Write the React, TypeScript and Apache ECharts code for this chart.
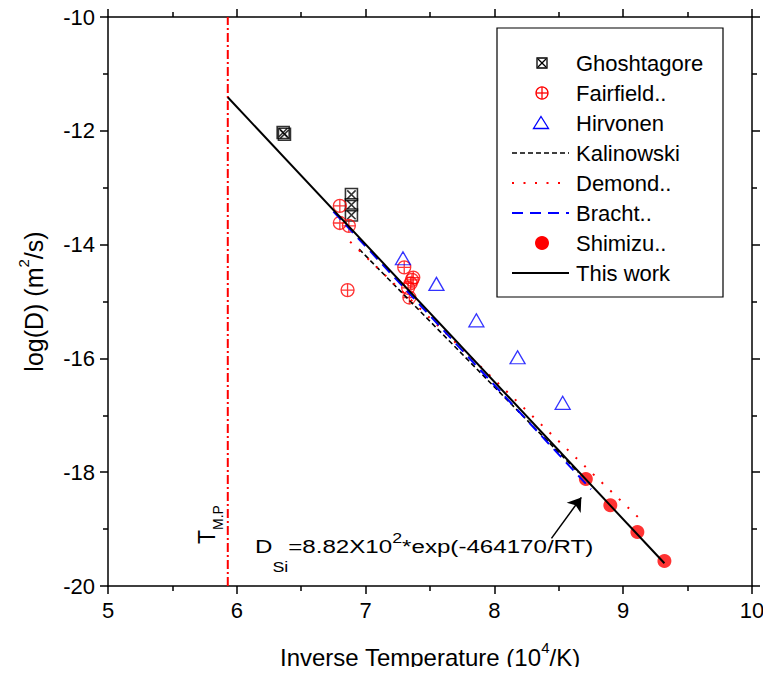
import React, { useEffect, useRef } from 'react';
import * as echarts from 'echarts';

// ---- data ----
const ghoshtagore: number[][] = [[6.36, -12.03], [6.37, -12.06], [6.89, -13.12], [6.89, -13.30], [6.89, -13.48]];
const fairfield: number[][] = [
  [6.80, -13.32], [6.80, -13.62], [6.87, -13.67], [6.86, -14.80], [7.30, -14.40],
  [7.37, -14.58], [7.36, -14.62], [7.35, -14.68], [7.33, -14.76], [7.34, -14.93],
];
const hirvonen: number[][] = [[7.29, -14.24], [7.55, -14.69], [7.86, -15.33], [8.18, -15.98], [8.53, -16.78]];
const shimizu: number[][] = [[8.71, -18.12], [8.90, -18.58], [9.11, -19.05], [9.32, -19.56]];
const kalinowski: number[][] = [[6.95, -14.08], [8.65, -18.0]];
const demond: number[][] = [[6.88, -13.95], [9.12, -18.8]];
const bracht: number[][] = [[6.75, -13.42], [8.75, -18.3]];
const thisWork: number[][] = [[5.93, -11.41], [9.32, -19.6]];
const meltingPoint: number[][] = [[5.93, -20], [5.93, -10]];
const arrowFrom: number[] = [8.443, -19.162];
const arrowTo: number[] = [8.675, -18.443];

const xMin = 5, xMax = 10, xStep = 1;
const yMin = -20, yMax = -10, yStep = 2;

const legendNames = ['Ghoshtagore', 'Fairfield..', 'Hirvonen', 'Kalinowski', 'Demond..', 'Bracht..', 'Shimizu..', 'This work'];

const FONT = '"Liberation Sans", Arial, Helvetica, sans-serif';

export default function App() {
  const ref = useRef<HTMLDivElement>(null);

  useEffect(() => {
    if (!ref.current) return;
    const chart = echarts.init(ref.current, undefined, { renderer: 'svg' });

    const axisLineStyle = { color: '#000', width: 1.5 };
    const baseAxis = {
      type: 'value' as const,
      axisLine: { show: true, onZero: false, lineStyle: axisLineStyle },
      axisTick: { show: true, length: 8, lineStyle: axisLineStyle },
      minorTick: { show: true, splitNumber: 2, length: 5, lineStyle: axisLineStyle },
      splitLine: { show: false },
      minorSplitLine: { show: false },
    };
    const labelStyle = { fontSize: 22, color: '#000', fontFamily: FONT };

    const ly = (i: number) => 63 + 30 * i;
    const symX = 542;
    const textX = 576;
    const legendGraphics: any[] = [
      { type: 'rect', shape: { x: 497, y: 28, width: 226, height: 269 }, style: { fill: '#fff', stroke: '#000', lineWidth: 1.2 }, z: 10 },
      // Ghoshtagore
      { type: 'rect', shape: { x: symX - 5, y: ly(0) - 5, width: 10, height: 10 }, style: { fill: 'none', stroke: '#000', lineWidth: 1.3 }, z: 11 },
      { type: 'line', shape: { x1: symX - 4, y1: ly(0) - 4, x2: symX + 4, y2: ly(0) + 4 }, style: { stroke: '#000', lineWidth: 1.2 }, z: 11 },
      { type: 'line', shape: { x1: symX + 4, y1: ly(0) - 4, x2: symX - 4, y2: ly(0) + 4 }, style: { stroke: '#000', lineWidth: 1.2 }, z: 11 },
      // Fairfield
      { type: 'circle', shape: { cx: symX, cy: ly(1), r: 6 }, style: { fill: 'none', stroke: '#f00', lineWidth: 1.3 }, z: 11 },
      { type: 'line', shape: { x1: symX - 6, y1: ly(1), x2: symX + 6, y2: ly(1) }, style: { stroke: '#f00', lineWidth: 1.3 }, z: 11 },
      { type: 'line', shape: { x1: symX, y1: ly(1) - 6, x2: symX, y2: ly(1) + 6 }, style: { stroke: '#f00', lineWidth: 1.3 }, z: 11 },
      // Hirvonen
      { type: 'polygon', shape: { points: [[symX - 1, ly(2) - 6.5], [symX + 6.5, ly(2) + 5.5], [symX - 8.5, ly(2) + 5.5]] }, style: { fill: 'none', stroke: '#00f', lineWidth: 1.3 }, z: 11 },
      // Kalinowski
      { type: 'line', shape: { x1: 512, y1: ly(3), x2: 569, y2: ly(3) }, style: { stroke: '#000', lineWidth: 1.5, lineDash: [5, 3] }, z: 11 },
      // Demond
      { type: 'line', shape: { x1: 512, y1: ly(4), x2: 569, y2: ly(4) }, style: { stroke: '#f00', lineWidth: 2, lineDash: [2, 9.5] }, z: 11 },
      // Bracht
      { type: 'line', shape: { x1: 512, y1: ly(5), x2: 569, y2: ly(5) }, style: { stroke: '#00f', lineWidth: 2, lineDash: [11, 7] }, z: 11 },
      // Shimizu
      { type: 'circle', shape: { cx: symX, cy: ly(6), r: 7 }, style: { fill: '#f00', stroke: 'none' }, z: 11 },
      // This work
      { type: 'line', shape: { x1: 512, y1: ly(7), x2: 569, y2: ly(7) }, style: { stroke: '#000', lineWidth: 2 }, z: 11 },
      ...legendNames.map((n, i) => ({
        type: 'text', x: textX, y: ly(i), z: 11,
        style: { text: n, fontSize: 22, fontFamily: FONT, fill: '#000', verticalAlign: 'middle', align: 'left' },
      })),
      // T_M.P label (rotated)
      {
        type: 'text', x: 210, y: 544, rotation: Math.PI / 2, z: 11,
        style: {
          text: '{t|T}{s|M.P}', align: 'left', verticalAlign: 'middle', fontFamily: FONT, fill: '#000',
          rich: {
            t: { fontSize: 23, fontFamily: FONT, verticalAlign: 'top', padding: [0, 0, 0, 0] },
            s: { fontSize: 14, fontFamily: FONT, verticalAlign: 'top', padding: [16, 0, 0, 0] },
          },
        },
      },
      // equation annotation
      {
        type: 'text', x: 255, y: 530, scaleX: 1.27, z: 11,
        style: {
          text: '{m|D}{sub|Si}{m|=8.82X10}{sup|2}{m|*exp(-464170/RT)}',
          align: 'left', verticalAlign: 'top', fontFamily: FONT, fill: '#000',
          rich: {
            m: { fontSize: 19, fontFamily: FONT, verticalAlign: 'top', padding: [7, 0, 0, 0] },
            sub: { fontSize: 14, fontFamily: FONT, verticalAlign: 'top', padding: [30, 0, 0, 0] },
            sup: { fontSize: 14, fontFamily: FONT, verticalAlign: 'top', padding: [1, 0, 0, 0] },
          },
        },
      },
    ];

    const option: any = {
      animation: false,
      backgroundColor: '#fff',
      grid: { left: 108, right: 19, top: 17, bottom: 89, containLabel: false },
      xAxis: [
        {
          ...baseAxis, min: xMin, max: xMax, interval: xStep, position: 'bottom',
          axisLabel: { ...labelStyle, margin: 13 },
          name: '{a|Inverse Temperature (10}{s|4}{a|/K)}',
          nameLocation: 'middle', nameGap: 54,
          nameTextStyle: {
            fontFamily: FONT, color: '#000',
            rich: {
              a: { fontSize: 24, fontFamily: FONT, color: '#000', verticalAlign: 'top', padding: [5, 0, 0, 0] },
              s: { fontSize: 15, fontFamily: FONT, color: '#000', verticalAlign: 'top', padding: [0, 0, 0, 0] },
            },
          },
        },
        {
          ...baseAxis, min: xMin, max: xMax, interval: xStep, position: 'top',
          axisLabel: { show: false },
        },
      ],
      yAxis: [
        {
          ...baseAxis, min: yMin, max: yMax, interval: yStep, position: 'left',
          axisLabel: { ...labelStyle, margin: 13 },
          name: '{a|log(D) (m}{s|2}{a|/s)}',
          nameLocation: 'middle', nameGap: 62, nameRotate: 90,
          nameTextStyle: {
            fontFamily: FONT, color: '#000',
            rich: {
              a: { fontSize: 25, fontFamily: FONT, color: '#000', verticalAlign: 'top', padding: [5, 0, 0, 0] },
              s: { fontSize: 15, fontFamily: FONT, color: '#000', verticalAlign: 'top', padding: [0, 0, 0, 0] },
            },
          },
        },
        {
          ...baseAxis, min: yMin, max: yMax, interval: yStep, position: 'right',
          axisLabel: { show: false },
        },
      ],
      graphic: legendGraphics,
      series: [
        {
          name: 'T_M.P', type: 'line', data: meltingPoint, showSymbol: false, symbol: 'none',
          lineStyle: { color: '#f00', width: 2, type: [9, 3, 2, 3] }, silent: true, z: 1,
        },
        {
          name: 'Ghoshtagore', type: 'scatter', data: ghoshtagore,
          symbol: 'path://M0,0H10V10H0Z M1.5,1.5L8.5,8.5 M8.5,1.5L1.5,8.5', symbolSize: 12,
          itemStyle: { color: 'rgba(0,0,0,0)', borderColor: '#000', borderWidth: 1.6 }, z: 3,
        },
        {
          name: 'Fairfield..', type: 'scatter', data: fairfield,
          symbol: 'path://M20,10A10,10,0,1,1,0,10A10,10,0,1,1,20,10Z M0,10H20 M10,0V20', symbolSize: 13,
          itemStyle: { color: 'rgba(0,0,0,0)', borderColor: '#f00', borderWidth: 1.3 }, z: 3,
        },
        {
          name: 'Hirvonen', type: 'scatter', data: hirvonen,
          symbol: 'triangle', symbolSize: [15, 13],
          itemStyle: { color: 'rgba(0,0,0,0)', borderColor: '#00f', borderWidth: 1.3 }, z: 3,
        },
        {
          name: 'Shimizu..', type: 'scatter', data: shimizu,
          symbol: 'circle', symbolSize: 14,
          itemStyle: { color: '#f00' }, z: 3,
        },
        {
          name: 'Kalinowski', type: 'line', data: kalinowski, symbol: 'none',
          lineStyle: { color: '#000', width: 1.6, type: [5, 3] }, z: 4,
        },
        {
          name: 'Demond..', type: 'line', data: demond, symbol: 'none',
          lineStyle: { color: '#f00', width: 2, type: [2, 10] }, z: 4,
        },
        {
          name: 'Bracht..', type: 'line', data: bracht, symbol: 'none',
          lineStyle: { color: '#00f', width: 2, type: [11, 7] }, z: 4,
        },
        {
          name: 'This work', type: 'line', data: thisWork, symbol: 'none',
          lineStyle: { color: '#000', width: 2 }, z: 5,
          markLine: {
            silent: true, symbol: ['none', 'arrow'], symbolSize: 13,
            lineStyle: { color: '#000', width: 1.5, type: 'solid' },
            itemStyle: { color: '#000' },
            label: { show: false },
            emphasis: { disabled: true },
            data: [[{ coord: arrowFrom }, { coord: arrowTo }]],
          },
        },
      ],
    };

    chart.setOption(option);
    return () => chart.dispose();
  }, []);

  return <div ref={ref} style={{ width: 771, height: 675, margin: -8 }} />;
}
